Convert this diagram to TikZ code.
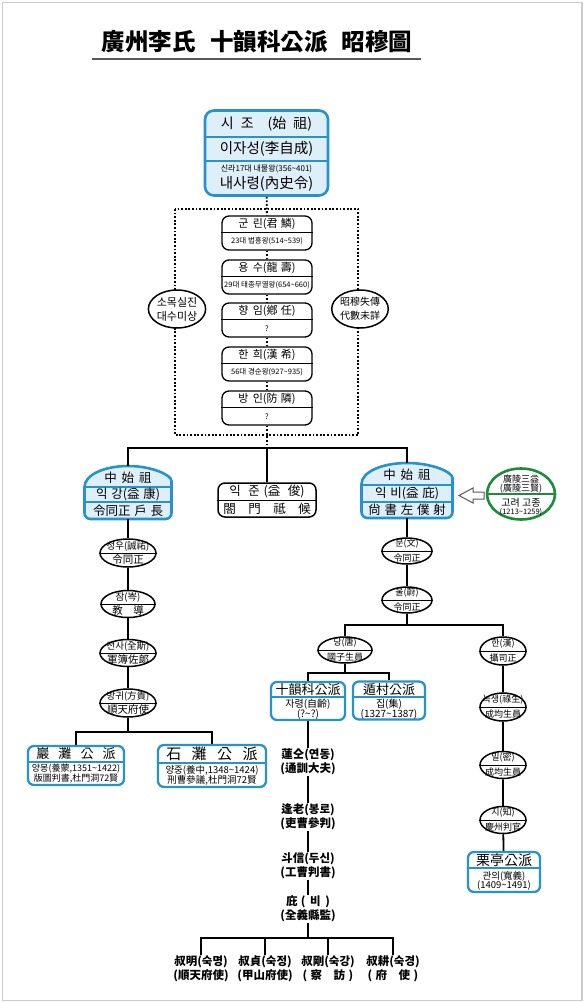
\documentclass[tikz,border=0pt]{standalone}
\usepackage{fontspec}
\setmainfont{Noto Sans CJK KR}
\usetikzlibrary{shapes.geometric}

\definecolor{clanblue}{RGB}{38,148,200}
\definecolor{clanfill}{RGB}{222,239,249}
\definecolor{clangreen}{RGB}{28,140,60}

\newcommand{\fsize}[1]{\fontsize{#1}{#1}\selectfont}

% dome frame: centre x, top y, bottom y, half width
\newcommand{\domeframe}[4]{%
  \draw[draw=clanblue, fill=clanfill, line width=2.6pt, rounded corners=6pt]
    (#1-#4,#2+21) -- (#1-#4,#3) -- (#1+#4,#3) -- (#1+#4,#2+21)
    [sharp corners] .. controls (#1+#4,#2+9) and (#1+0.55*#4,#2) .. (#1,#2)
    .. controls (#1-0.55*#4,#2) and (#1-#4,#2+9) .. cycle;}

% split oval: name, x, y, width, height, upper, lower
\newcommand{\famoval}[7]{%
  \node[oval, minimum width=#4pt, minimum height=#5pt] (#1) at (#2,#3) {};
  \draw[sepline] (#1.west) -- (#1.east);
  \node[ovup] (#1-up) at (#2,#3-7) {#6};
  \node[ovlow] (#1-low) at (#2,#3+7) {#7};}

\begin{document}
\begin{tikzpicture}[x=1pt,y=-1pt,
  link/.style={line width=1.8pt},
  dotlink/.style={line width=1.8pt, dash pattern=on 1.8pt off 1.8pt},
  kingbox/.style={draw, line width=1.3pt, rounded corners=7pt, fill=white,
    minimum width=90pt, minimum height=34pt, inner sep=0pt},
  oval/.style={draw, ellipse, line width=1.5pt, fill=white, inner sep=0pt},
  sepline/.style={line width=0.8pt},
  blueline/.style={draw=clanblue, line width=1.4pt},
  branch/.style={draw=clanblue, line width=2.3pt, rounded corners=6pt,
    fill=white, inner sep=0pt},
  txt/.style={inner sep=0pt, font=\fsize{#1}}, txt/.default=9,
  btxt/.style={inner sep=1pt, align=center,
    font=\bfseries\fontsize{11.5}{14}\selectfont},
  ovup/.style={txt=9.5}, ovlow/.style={txt=10.5}]

\useasboundingbox (0,0) rectangle (585,1003);
\fill[white] (0,0) rectangle (585,1003);
\draw[gray!40, line width=1.2pt] (2.5,2.5) rectangle (582,1000.5);

% title
\node[font=\bfseries\fsize{23.5}] (title) at (257,42)
  {廣州李氏\hspace{0.6em}十韻科公派\hspace{0.6em}昭穆圖};
\draw[line width=1.5pt, gray!70!black] (92,59) -- (421,59);

% founder
\node[draw=clanblue, line width=2.6pt, fill=clanfill, rounded corners=9pt,
  minimum width=123pt, minimum height=85pt] (sijo) at (266.5,153) {};
\draw[blueline] (sijo.west |- 0,137) -- (sijo.east |- 0,137);
\draw[blueline] (sijo.west |- 0,161) -- (sijo.east |- 0,161);
\node[txt=14] (sijo-a) at (266.5,124)
  {시\hspace{0.5em}조\hspace{1em}(始\hspace{0.5em}祖)};
\node[txt=14.5] (sijo-b) at (266.5,149) {이자성(李自成)};
\node[txt=8] (sijo-c) at (266.5,169) {신라17대 내물왕(356\textasciitilde401)};
\node[txt=14.5] (sijo-d) at (266.5,184) {내사령(內史令)};

% lost generations
\draw[dotlink] (175,209) rectangle (358,435);
\foreach \nm/\yy/\up/\low in {
  gunrin/216/군\hspace{.4em}린(君\hspace{.3em}鱗)/23대 법흥왕(514\textasciitilde539),
  yongsu/260/용\hspace{.4em}수(龍\hspace{.3em}壽)/29대 태종무열왕(654\textasciitilde660),
  hyangim/303/향\hspace{.4em}임(鄕\hspace{.3em}任)/?,
  hanhui/347/한\hspace{.4em}희(漢\hspace{.3em}希)/56대 경순왕(927\textasciitilde935),
  bangin/391/방\hspace{.4em}인(防\hspace{.3em}隣)/?}
{
  \node[kingbox] (\nm) at (267,\yy+17) {};
  \draw[sepline] (\nm.west |- 0,\yy+16) -- (\nm.east |- 0,\yy+16);
  \node[txt=11] (\nm-up) at (267,\yy+8) {\up};
  \node[txt=7.5] (\nm-low) at (267,\yy+25.5) {\low};
}
\node[oval, minimum width=54pt, minimum height=38pt, align=center,
  font=\fontsize{11}{14}\selectfont] (somok) at (177,309) {소목실진\\대수미상};
\node[oval, minimum width=52pt, minimum height=38pt, align=center,
  font=\fontsize{10}{14}\selectfont] (somokhan) at (360,309) {昭穆失傳\\代數未詳};

\coordinate (split) at (267,448);
\draw[dotlink] (sijo) -- (gunrin);
\foreach \a/\b in {gunrin/yongsu, yongsu/hyangim, hyangim/hanhui, hanhui/bangin}
  \draw[dotlink] (\a) -- (\b);
\draw[dotlink] (bangin) -- (split);

% three sons
\node[inner sep=0pt, minimum width=87pt, minimum height=53pt] (ikang) at (128,492.5) {};
\domeframe{128}{466}{519}{43.5}
\draw[blueline] (ikang.west |- 0,487) -- (ikang.east |- 0,487);
\draw[blueline] (ikang.west |- 0,502) -- (ikang.east |- 0,502);
\node[txt=12.5] (ikang-a) at (128,477.5) {中\hspace{.4em}始\hspace{.4em}祖};
\node[txt=12.5] (ikang-b) at (128,494.5) {익\hspace{.3em}강(益\hspace{.3em}康)};
\node[txt=12.5] (ikang-c) at (128,510.5) {令同正\hspace{.3em}戶\hspace{.3em}長};

\node[kingbox, minimum width=98pt, line width=1.5pt] (ikjun) at (267,500) {};
\draw[sepline] (ikjun.west) -- (ikjun.east);
\node[txt=12.5] (ikjun-a) at (267,491.5) {익\hspace{.6em}준\hspace{.3em}(益\hspace{.6em}俊)};
\node[txt=12.5] (ikjun-b) at (267,508.5) {閤\hspace{1em}門\hspace{1em}祗\hspace{1em}候};

\node[inner sep=0pt, minimum width=91pt, minimum height=55pt] (ibi) at (407,490.5) {};
\domeframe{407}{463}{518}{45.5}
\draw[blueline] (ibi.west |- 0,485) -- (ibi.east |- 0,485);
\draw[blueline] (ibi.west |- 0,502) -- (ibi.east |- 0,502);
\node[txt=12.5] (ibi-a) at (407,474.5) {中\hspace{.4em}始\hspace{.4em}祖};
\node[txt=12.5] (ibi-b) at (407,493.5) {익\hspace{.3em}비(益\hspace{.3em}庇)};
\node[txt=12.5] (ibi-c) at (407,510) {尙\hspace{.3em}書\hspace{.3em}左\hspace{.3em}僕\hspace{.3em}射};

\draw[link] (ikang.north) |- (split) -| (ibi.north);
\draw[link] (split) -- (ikjun);

% gwangneung
\node[draw=clangreen, line width=2.6pt, ellipse, minimum width=68pt,
  minimum height=51pt, fill=white] (gwangneung) at (521,494) {};
\draw[clangreen, line width=1.8pt] (gwangneung.west) -- (gwangneung.east);
\node[txt=9] (gwangneung-a) at (521,479.5) {廣陵三益};
\node[txt=9] (gwangneung-b) at (521,489) {(廣陵三賢)};
\node[txt=10] (gwangneung-c) at (521,503) {고려 고종};
\node[txt=7.5] (gwangneung-d) at (521,512.5) {(1213\textasciitilde1259)};
\draw[line width=1pt, black!65, fill=white] (459,495.5) -- (473,488) -- (473,492)
  -- (484,492) -- (484,499) -- (473,499) -- (473,503) -- cycle;

% left line
\famoval{seongu}{128}{553}{56}{28}{성우(誠祐)}{令同正}
\famoval{jam}{128}{604}{54}{27}{잠(岑)}{教\hspace{1em}導}
\famoval{jeonsa}{128}{653}{56}{27}{전사(全斯)}{軍簿佐郞}
\famoval{banggwi}{128}{703}{56}{28}{방귀(方貴)}{順天府使}
\coordinate (lsplit) at (128,732);
\draw[link] (ikang) -- (seongu) -- (jam) -- (jeonsa) -- (banggwi) -- (lsplit);

\node[branch, minimum width=96pt, minimum height=39pt] (amtan) at (76,765.5) {};
\draw[blueline] (amtan.west |- 0,762) -- (amtan.east |- 0,762);
\node[txt=13] (amtan-head) at (76,754) {巖\hspace{.7em}灘\hspace{.7em}公\hspace{.7em}派};
\node[txt=9] (amtan-a) at (76,768.5) {양몽(養蒙,1351\textasciitilde1422)};
\node[txt=9] (amtan-b) at (76,778.5) {版圖判書,杜門洞72賢};

\node[branch, minimum width=108pt, minimum height=42pt] (seoktan) at (212,766) {};
\draw[blueline] (seoktan.west |- 0,763) -- (seoktan.east |- 0,763);
\node[txt=15] (seoktan-head) at (212,754) {石\hspace{.7em}灘\hspace{.7em}公\hspace{.7em}派};
\node[txt=9.5] (seoktan-a) at (212,770.5) {양중(養中,1348\textasciitilde1424)};
\node[txt=9.5] (seoktan-b) at (212,780.5) {刑曹參議,杜門洞72賢};
\draw[link] (amtan.north) |- (lsplit) -| (seoktan.north);

% right line
\begin{scope}[ovup/.style={txt=9}, ovlow/.style={txt=9}]
\famoval{mun}{407}{551}{50}{26}{문(文)}{令同正}
\famoval{ul}{407}{600}{50}{26}{울(蔚)}{令同正}
\famoval{dang}{345}{650}{54}{26}{당(唐)}{國子生員}
\famoval{han}{503}{651}{46}{28}{한(漢)}{攝司正}
\famoval{noksaeng}{503}{707}{46}{28}{녹생(祿生)}{成均生員}
\famoval{mil}{503}{765}{46}{27}{밀(密)}{成均生員}
\famoval{ji}{503}{820}{46}{27}{지(知)}{慶州判官}
\end{scope}
\coordinate (rsplit) at (407,625);
\draw[link] (ibi) -- (mun) -- (ul) -- (rsplit);
\draw[link] (dang.north) |- (rsplit) -| (han.north);

\node[branch, minimum width=72pt, minimum height=40pt] (yuljeong) at (504,872) {};
\draw[blueline] (yuljeong.west |- 0,868) -- (yuljeong.east |- 0,868);
\node[txt=14] (yuljeong-head) at (504,860) {栗亭公派};
\node[txt=9.5] (yuljeong-a) at (504,876) {관의(寬義)};
\node[txt=9.5] (yuljeong-b) at (504,886) {(1409\textasciitilde1491)};
\draw[link] (han) -- (noksaeng) -- (mil) -- (ji) -- (yuljeong);

% dang's sons
\node[branch, minimum width=74pt, minimum height=38pt] (sipun) at (308,701) {};
\draw[blueline] (sipun.west |- 0,697) -- (sipun.east |- 0,697);
\node[txt=13] (sipun-head) at (308,689.5) {十韻科公派};
\node[txt=10] (sipun-a) at (308,704) {자령(自齡)};
\node[txt=10] (sipun-b) at (308,714) {(?\textasciitilde?)};

\node[branch, minimum width=72pt, minimum height=38pt] (dunchon) at (389,700.5) {};
\draw[blueline] (dunchon.west |- 0,697) -- (dunchon.east |- 0,697);
\node[txt=13] (dunchon-head) at (389,689.5) {遁村公派};
\node[txt=10] (dunchon-a) at (389,704) {집(集)};
\node[txt=10] (dunchon-b) at (389,714) {(1327\textasciitilde1387)};

\coordinate (dsplit) at (345,673);
\draw[link] (dang) -- (dsplit);
\draw[link] (sipun.north) |- (dsplit) -| (dunchon.north);

% shiunkwa line
\node[btxt] (yeondong) at (308,762) {蓮仝(연동)\\(通訓大夫)};
\node[btxt] (bongro) at (308,817) {逢老(봉로)\\(吏曹參判)};
\node[btxt] (dusin) at (308,866) {斗信(두신)\\(工曹判書)};
\node[btxt] (bi) at (308,909) {庇\hspace{.3em}(\hspace{.4em}비\hspace{.4em})\\(全義縣監)};
\draw[link] (sipun) -- (yeondong) -- (bongro) -- (dusin) -- (bi);

\node[btxt] (sukmyeong) at (201,969) {叔明(숙명)\\(順天府使)};
\node[btxt] (sukjeong) at (265,969) {叔貞(숙정)\\(甲山府使)};
\node[btxt] (sukgang) at (328,969) {叔剛(숙강)\\(\hspace{.3em}察\hspace{1em}訪\hspace{.3em})};
\node[btxt] (sukgyeong) at (393,969) {叔耕(숙경)\\(\hspace{.3em}府\hspace{1em}使\hspace{.3em})};
\coordinate (bsplit) at (308,938);
\draw[link] (bi) -- (bsplit);
\draw[link] (sukmyeong.north) |- (bsplit) -| (sukgyeong.north);
\draw[link] (sukjeong.north) -- (sukjeong.north |- bsplit);
\draw[link] (sukgang.north) -- (sukgang.north |- bsplit);

\end{tikzpicture}
\end{document}
